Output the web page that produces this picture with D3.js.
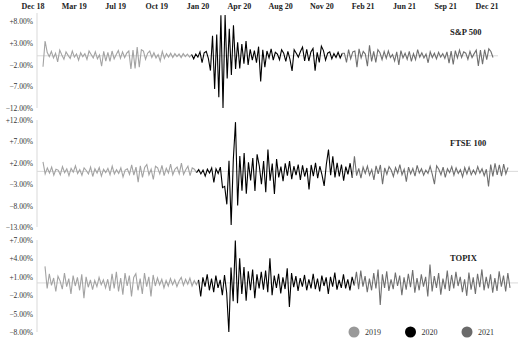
<!DOCTYPE html>
<html>
<head>
<meta charset="utf-8">
<script src="https://cdn.jsdelivr.net/npm/d3@7"></script>
<style>
  body { margin: 0; background: #fff; }
  svg { display: block; font-family: "Liberation Serif", "Times New Roman", serif; }
</style>
</head>
<body>
<svg id="chart" width="520" height="339"></svg>
<script>
// top axis labels
const dateLabels = ['Dec 18','Mar 19','Jul 19','Oct 19','Jan 20','Apr 20','Aug 20','Nov 20','Feb 21','Jun 21','Sep 21','Dec 21'];
const years = ['2019', '2020', '2021'];

const sp2019 = [-2.5, 3.4, 0.8, -0.2, 1.0, -0.5, 0.6, -1.4, 1.3, 0.2, -0.8, 0.9,
  0.1, -0.6, 1.1, -0.3, 0.4, -1.0, 0.7, -0.2, 0.5, -0.8, 1.1, 0.3,
  -0.5, 0.9, -0.7, 0.2, -2.4, 1.0, -1.2, 0.8, -1.3, 1.1, -0.7, 0.3,
  1.2, -0.6, 0.9, -0.4, 0.6, 1.1, -3.0, 1.3, -2.9, 2.0, -2.6, 1.4,
  1.1, -0.8, 0.6, 1.1, -0.4, 0.7, -0.5, 0.3, -1.2, 1.0, -0.6, 0.5,
  -0.3, 0.6, -0.4, 0.5, -0.2, 0.4, -0.4, 0.5, -0.2, 0.4, -0.3, 0.3];
const sp2020 = [-0.7, 0.4, -0.3, 0.9, -1.6, 0.7, 1.0, -0.6, -3.4, 4.6,
  -7.6, 4.9, -9.5, 9.3, -12.0, 9.4, -5.2, 6.2, -4.4, 7.0,
  -3.0, 3.1, -2.9, 2.7, -1.8, 3.4, -2.1, 1.5, -1.0, 1.2,
  -1.6, 2.1, -5.9, 1.4, -2.6, 1.1, -0.5, 1.6, -1.0, 0.8,
  0.4, -0.9, 1.4, 0.6, -1.3, 1.0, -0.8, -3.5, 1.4, 0.6,
  -0.3, 1.0, 2.0, -1.2, 1.5, -1.2, 0.9, 1.7, -3.4, 0.8,
  -1.5, 2.2, 1.2, -1.0, 0.6, 0.9, -0.7, 0.5, -0.4, 0.8,
  -0.5, 0.6];
const sp2021 = [0.6, -1.5, 1.4, -0.7, 0.9, 1.1, -2.6, 1.6, -0.5, 1.0, 0.4, -2.4,
  2.4, -1.3, 1.0, -1.5, 1.4, 0.7, -0.9, 1.0, -0.6, 1.1, -0.4, 0.3,
  -1.2, 0.9, -2.1, 1.2, -0.5, 0.6, -0.8, 1.0, -1.3, 0.5, -0.9, 1.4,
  -0.3, 0.7, -0.5, 0.4, -1.6, 0.9, -0.4, 0.6, -0.7, 0.8, -0.3, 0.5,
  -0.6, 0.9, -1.7, 1.1, -2.0, 1.2, -0.5, 1.3, -0.4, 0.9, 0.6, -0.8,
  1.0, -0.4, 0.5, 1.3, -2.3, 1.3, -1.9, 1.4, -0.9, 1.6, 1.0, -0.4];

const ft2019 = [2.2, -0.6, 0.8, -0.4, 1.0, -0.9, 0.5, 0.3, -0.8, 1.1, -0.3, 0.6,
  -1.0, 0.7, -0.2, 1.3, -0.5, 0.4, -0.9, 0.8, 0.2, -0.6, 1.0, -1.2,
  0.6, -0.4, 0.9, -1.1, 0.5, -0.3, 0.7, -0.8, 1.2, -0.6, 0.4, -0.5,
  0.8, -1.3, 0.3, 0.6, -0.7, 1.5, -0.9, 1.0, -2.5, 1.3, -1.4, 0.9,
  1.6, -0.8, 0.5, -1.9, 1.2, 0.8, -0.6, 1.4, -1.0, 0.7, -0.4, 1.7,
  -0.8, 0.5, 1.0, -0.6, 1.9, -0.7, 0.4, 1.2, -1.0, 0.8, 0.5, -0.3];
const ft2020 = [0.4, -0.6, 0.3, -1.1, 0.5, -0.4, 0.8, -2.6, 0.6, -0.5, 1.0, -3.8,
  -3.5, -7.7, 2.5, -12.5, 2.8, 11.5, -8.0, 3.6, -4.5, 4.3, -5.2, 2.1,
  -2.1, 3.1, -4.6, 4.0, 1.3, -3.0, 2.4, -4.9, 5.1, -2.2, 1.8, -5.3,
  2.9, -1.4, 1.1, -2.3, 1.9, -1.0, 2.4, -1.8, 1.2, -0.9, 1.6, -2.0,
  1.4, -1.2, 0.8, -4.2, 1.5, -1.1, 2.0, -1.6, 1.2, -0.8, -3.4, 1.6,
  5.1, -0.9, 3.5, -1.4, 2.0, -1.2, 1.6, -2.2, 1.1, -0.7, 1.9, -1.5];
const ft2021 = [3.5, -1.0, 0.7, -1.6, 1.0, -0.5, 1.2, -0.9, 0.4, -2.0, 1.3, -0.6,
  1.5, -3.0, 0.8, -0.7, 1.1, 0.3, -1.2, 0.9, -0.4, 1.6, -0.8, 0.5,
  -2.4, 1.0, -0.6, 0.7, -1.1, 1.4, -0.4, 0.6, -0.9, 0.3, -0.5, 1.2,
  -0.7, -3.0, 1.3, 0.5, -0.8, 1.0, -1.4, 0.6, -0.3, 1.1, -0.9, 0.8,
  -0.5, 0.4, -1.3, 0.9, -0.6, 1.0, -0.8, 0.3, -0.7, 1.1, -0.4, 0.6,
  -1.0, 0.5, -3.5, 1.6, -1.2, 1.9, -0.8, 1.5, -1.1, 1.7, -0.6, 0.9];

const tp2019 = [2.7, -0.9, 1.5, -0.4, 0.8, -1.4, 1.1, 0.3, -1.0, 1.6, -0.6, 0.7,
  -1.8, 1.2, -0.5, 0.9, -1.2, 1.4, -2.5, 1.0, -0.7, 0.5, -1.1, 0.4,
  -0.6, 0.9, -0.3, 0.5, -0.8, 0.6, -1.3, 1.5, -0.9, 1.8, -1.4, 0.8,
  -1.9, 1.6, -0.5, 1.2, -2.2, 0.9, 1.5, -1.2, 0.7, -1.8, 1.6, -0.6,
  1.0, -2.2, 1.3, -0.5, 0.8, -0.3, 0.6, -0.8, 0.4, -0.5, 0.7, -0.3,
  0.5, -0.6, 0.3, 0.9, -0.4, 0.6, -0.2, 0.8, -0.5, 0.4, -0.3, 0.5];
const tp2020 = [-2.2, 0.9, -0.6, 1.4, -1.2, 0.7, -1.5, 1.2, -0.8, 0.5, -2.0, 1.3,
  -1.6, -8.0, 2.5, -3.0, 6.9, -3.3, 4.0, -1.8, 2.6, -2.9, 1.9, -1.2,
  2.2, -2.5, 1.4, -0.9, 1.8, -1.1, 2.0, -1.5, 4.0, -2.0, 1.2, -0.8,
  1.5, -1.7, 0.9, -1.0, 2.4, -3.9, 1.6, -0.7, 1.1, -1.3, 0.8, -0.6,
  1.3, -1.2, 0.6, -0.9, 1.5, -1.0, 0.7, -1.4, 1.2, -0.5, 0.9, -1.8,
  1.0, -0.6, 1.7, -1.1, 0.5, -0.8, 1.4, -0.9, 0.6, -1.2, 1.0, -0.4];
const tp2021 = [1.8, -1.0, 2.0, -0.6, 1.1, -1.5, 0.7, -1.2, 1.6, -0.9, 2.2, -3.6,
  1.4, -0.8, 1.9, -1.3, 0.6, -1.0, 1.7, -0.5, 1.2, -2.0, 0.9, -1.1,
  1.5, -0.7, 2.1, -1.6, 0.8, -1.2, 1.4, -0.6, 1.0, -2.2, 3.0, -1.4,
  1.1, -0.8, 1.6, -1.9, 0.7, -1.0, 2.0, -1.3, 1.3, -0.9, 1.8, -0.5,
  1.0, -1.5, 0.6, -2.1, 1.7, -1.1, 0.9, -1.8, 1.5, -0.7, 2.2, -1.2,
  1.0, -0.9, 1.4, -1.6, 0.8, -1.3, 1.9, -0.6, 1.2, -1.4, 1.6, -0.8];

const spTicks = [8, 3, -2, -7, -12];
const ftTicks = [12, 7, 2, -3, -8, -13];
const tpTicks = [7, 4, 1, -2, -5, -8];

const yearColors = ['#a3a3a3', '#000000', '#6f6f6f'];

const panels = [
  { name: 'S&P 500', series: [sp2019, sp2020, sp2021], ticks: spTicks,
    y: [108, 21], x: [43, 493], top: 13, baseEnd: 498, titleY: 35 },
  { name: 'FTSE 100', series: [ft2019, ft2020, ft2021], ticks: ftTicks,
    y: [227, 120], x: [43, 508], top: 120, baseEnd: 518, titleY: 146 },
  { name: 'TOPIX', series: [tp2019, tp2020, tp2021], ticks: tpTicks,
    y: [332, 240], x: [45, 510], top: 240, baseEnd: 518, titleY: 261 }
];

const svg = d3.select('#chart');
const axisX = 37;

// top date labels
const xLab = d3.scalePoint().domain(dateLabels).range([33, 487]);
svg.append('g').selectAll('text')
  .data(dateLabels)
  .join('text')
  .attr('x', d => xLab(d))
  .attr('y', 9)
  .attr('text-anchor', 'middle')
  .attr('font-size', 8)
  .attr('font-weight', 'bold')
  .attr('fill', '#222')
  .text(d => d);

const fmt = v => (v > 0 ? '+' : v < 0 ? '\u2212' : '') + Math.abs(v).toFixed(2) + '%';

panels.forEach(p => {
  const lo = d3.min(p.ticks), hi = d3.max(p.ticks);
  const y = d3.scaleLinear().domain([lo, hi]).range(p.y);
  const n = p.series[0].length;
  const x = d3.scaleLinear().domain([0, n * 3 - 1]).range(p.x);
  const g = svg.append('g');

  // vertical axis line
  g.append('line')
    .attr('x1', axisX).attr('x2', axisX)
    .attr('y1', p.top).attr('y2', y(lo))
    .attr('stroke', '#d9d9d9').attr('stroke-width', 1);

  // zero baseline
  g.append('line')
    .attr('x1', axisX).attr('x2', p.baseEnd)
    .attr('y1', y(0)).attr('y2', y(0))
    .attr('stroke', '#d9d9d9').attr('stroke-width', 1);

  g.selectAll('text.tick')
    .data(p.ticks)
    .join('text')
    .attr('class', 'tick')
    .attr('x', 33)
    .attr('y', d => y(d) + 3)
    .attr('text-anchor', 'end')
    .attr('font-size', 7.5)
    .attr('fill', '#333')
    .text(fmt);

  const line = d3.line().x(d => x(d[0])).y(d => y(d[1]));
  p.series.forEach((vals, k) => {
    const pts = vals.map((v, i) => [k * n + i, v]);
    if (k > 0) {
      const prev = p.series[k - 1];
      pts.unshift([k * n - 1, prev[prev.length - 1]]);
    }
    g.append('path')
      .attr('d', line(pts))
      .attr('fill', 'none')
      .attr('stroke', yearColors[k])
      .attr('stroke-width', 1.1)
      .attr('stroke-linejoin', 'miter');
  });

  g.append('text')
    .attr('x', 450)
    .attr('y', p.titleY)
    .attr('font-size', 8.5)
    .attr('font-weight', 'bold')
    .attr('fill', '#222')
    .text(p.name);
});

// legend
const legX = d3.scalePoint().domain(years).range([354, 467]);
const leg = svg.append('g').selectAll('g')
  .data(years)
  .join('g')
  .attr('transform', d => `translate(${legX(d)},332)`);
leg.append('circle')
  .attr('r', 5.5)
  .attr('fill', (d, i) => ['#999999', '#000000', '#6a6a6a'][i]);
leg.append('text')
  .attr('x', 11)
  .attr('y', 3)
  .attr('font-size', 8)
  .attr('fill', '#333')
  .text(d => d);
</script>
</body>
</html>
